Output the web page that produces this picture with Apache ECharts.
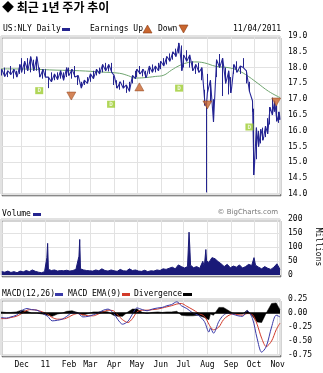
<!DOCTYPE html>
<html><head><meta charset="utf-8">
<script src="https://cdn.jsdelivr.net/npm/echarts@6/dist/echarts.min.js"></script>
<style>html,body{margin:0;padding:0;background:#fff}#c{width:323px;height:373px}</style>
</head><body><div id="c"></div>
<script>
// ---- Data ----
// tick labels indexed by month (0 = January -> year label)
const monthLabels = ['11','Feb','Mar','Apr','May','Jun','Jul','Aug','Sep','Oct','Nov','Dec'];

const priceDates = ['2010-11-05','2010-11-09','2010-11-13','2010-11-17','2010-11-21','2010-11-25','2010-11-29',
'2010-12-01','2010-12-05','2010-12-09','2010-12-13','2010-12-17','2010-12-21','2010-12-25','2010-12-29',
'2011-01-01','2011-01-05','2011-01-09','2011-01-13','2011-01-17','2011-01-21','2011-01-25','2011-01-29',
'2011-02-01','2011-02-05','2011-02-09','2011-02-13','2011-02-17','2011-02-21','2011-02-25',
'2011-03-01','2011-03-05','2011-03-09','2011-03-13','2011-03-17','2011-03-21','2011-03-25','2011-03-29',
'2011-04-01','2011-04-05','2011-04-09','2011-04-13','2011-04-17','2011-04-21','2011-04-25','2011-04-29',
'2011-05-01','2011-05-05','2011-05-09','2011-05-13','2011-05-17','2011-05-21','2011-05-25','2011-05-29',
'2011-06-01','2011-06-05','2011-06-09','2011-06-13','2011-06-17','2011-06-21','2011-06-25','2011-06-29',
'2011-07-01','2011-07-05','2011-07-09','2011-07-13','2011-07-17','2011-07-21','2011-07-25','2011-07-29','2011-07-31',
'2011-08-01','2011-08-05','2011-08-09','2011-08-13','2011-08-17','2011-08-21','2011-08-25','2011-08-29',
'2011-09-01','2011-09-05','2011-09-09','2011-09-13','2011-09-17','2011-09-21','2011-09-25','2011-09-29',
'2011-10-01','2011-10-04','2011-10-07','2011-10-10','2011-10-13','2011-10-16','2011-10-19','2011-10-22','2011-10-25','2011-10-28','2011-10-31','2011-11-03','2011-11-04'];
const priceHigh = [17.95,18.0,17.9,18.05,17.95,17.9,18.1,
18.3,18.2,18.3,18.35,18.25,18.35,18.0,17.95,
17.95,17.7,17.85,17.8,17.85,17.9,17.85,18.0,
18.0,17.95,18.05,17.75,17.55,17.6,17.7,
17.8,17.9,17.95,18.0,18.1,18.15,18.1,18.15,
17.75,17.6,17.55,17.6,17.45,17.55,17.75,17.9,
17.95,18.05,17.95,17.9,18.05,18.1,18.05,18.15,
18.2,18.3,18.35,18.45,18.5,18.6,18.78,18.7,
18.4,18.55,18.4,18.2,18.1,18.15,18.0,17.3,16.9,
17.8,17.6,17.0,18.25,18.43,18.3,18.0,17.9,
17.7,18.1,18.2,18.05,18.3,17.9,17.55,16.95,
16.7,16.1,16.0,16.05,16.1,16.15,16.4,16.75,17.05,16.95,16.8,16.6,16.5];
const priceLow = [17.75,17.72,17.7,17.78,17.65,17.7,17.8,
17.85,17.8,17.9,17.85,17.9,17.9,17.7,17.65,
17.7,17.35,17.55,17.6,17.62,17.65,17.6,17.7,
17.75,17.65,17.7,17.45,17.35,17.45,17.5,
17.55,17.65,17.75,17.8,17.85,17.9,17.88,17.85,
17.45,17.35,17.3,17.35,17.2,17.25,17.5,17.65,
17.7,17.8,17.72,17.68,17.8,17.85,17.85,17.9,
17.95,18.05,18.1,18.2,18.25,18.35,18.45,17.9,
18.0,18.2,18.0,17.9,17.8,17.85,17.6,16.8,14.05,
17.2,16.9,16.28,17.7,18.0,17.1,17.5,17.15,
17.2,17.8,17.85,17.8,18.0,17.5,17.25,16.6,
14.6,15.1,15.5,15.6,15.7,15.8,15.9,16.2,16.5,16.6,16.3,16.25,16.35];

const maDates = ['2010-11-04','2010-12-15','2011-01-15','2011-02-15','2011-03-15','2011-04-08','2011-04-20','2011-04-28','2011-05-10','2011-05-25','2011-06-05','2011-06-15','2011-06-25','2011-07-05','2011-07-15','2011-07-28','2011-08-12','2011-08-28','2011-09-08','2011-09-20','2011-10-05','2011-10-20','2011-11-04'];
const maValues = [17.96,17.95,17.92,17.9,17.86,17.82,17.74,17.67,17.68,17.72,17.76,17.92,18.06,18.15,18.18,18.15,18.04,18.0,17.93,17.78,17.52,17.25,17.05];

const divDates = ['2010-12-24','2011-03-28','2011-06-25','2011-09-25'];
const divY = [17.27,16.84,17.35,16.12];
const earnUpDates = ['2011-05-04'];
const earnUpY = [17.39];
const earnDownDates = ['2011-02-04','2011-08-01','2011-10-30'];
const earnDownY = [17.1,16.82,16.91];

const volDates = ['2010-11-05','2010-11-09','2010-11-13','2010-11-17','2010-11-21','2010-11-25','2010-11-29','2010-12-03','2010-12-07','2010-12-11','2010-12-15','2010-12-19','2010-12-23','2010-12-27','2010-12-31',
'2011-01-03','2011-01-04','2011-01-05','2011-01-09','2011-01-13','2011-01-17','2011-01-21','2011-01-25','2011-01-29','2011-02-02','2011-02-06','2011-02-10','2011-02-14','2011-02-15','2011-02-16','2011-02-20','2011-02-24','2011-02-28',
'2011-03-04','2011-03-08','2011-03-12','2011-03-16','2011-03-20','2011-03-24','2011-03-28','2011-04-01','2011-04-05','2011-04-09','2011-04-13','2011-04-17','2011-04-21','2011-04-25','2011-04-29',
'2011-05-03','2011-05-07','2011-05-11','2011-05-15','2011-05-19','2011-05-23','2011-05-27','2011-05-31','2011-06-04','2011-06-08','2011-06-12','2011-06-16','2011-06-20','2011-06-24','2011-06-28',
'2011-07-02','2011-07-06','2011-07-08','2011-07-09','2011-07-10','2011-07-14','2011-07-18','2011-07-22','2011-07-26','2011-07-28','2011-07-30','2011-07-31',
'2011-08-03','2011-08-07','2011-08-11','2011-08-15','2011-08-19','2011-08-23','2011-08-27','2011-08-31','2011-09-04','2011-09-08','2011-09-12','2011-09-16','2011-09-20','2011-09-24','2011-09-28',
'2011-10-01','2011-10-03','2011-10-07','2011-10-11','2011-10-15','2011-10-19','2011-10-23','2011-10-27','2011-10-31','2011-11-04'];
const volValues = [12,10,14,9,12,8,14,11,16,12,18,13,10,8,12,
62,113,20,16,18,14,16,15,17,14,16,20,67,127,22,18,16,15,
14,18,15,22,16,14,18,15,13,20,15,14,22,16,18,
14,13,17,12,15,14,18,16,22,20,24,28,22,36,30,
25,30,153,100,35,26,30,24,49,30,91,50,
45,62,58,48,40,30,38,26,32,28,36,25,30,38,34,
62,35,28,22,30,24,20,28,40,20];

const macdDates = ['2010-11-04','2010-11-11','2010-11-17','2010-11-24','2010-12-01','2010-12-08','2010-12-14','2010-12-21','2010-12-28','2011-01-04','2011-01-10','2011-01-17','2011-01-23','2011-01-29','2011-02-05','2011-02-12','2011-02-19','2011-02-26','2011-03-05','2011-03-11','2011-03-18','2011-03-24','2011-03-31','2011-04-06','2011-04-12','2011-04-19','2011-04-25','2011-05-01','2011-05-08','2011-05-14','2011-05-21','2011-05-28','2011-06-03','2011-06-09','2011-06-15','2011-06-22','2011-06-28','2011-07-05','2011-07-13','2011-07-20','2011-07-28','2011-08-03','2011-08-05','2011-08-09','2011-08-16','2011-08-22','2011-08-28','2011-09-03','2011-09-10','2011-09-16','2011-09-22','2011-09-29','2011-10-05','2011-10-11','2011-10-17','2011-10-24','2011-10-30','2011-11-04'];
const macdLine = [-0.08,-0.09,-0.07,-0.04,0.04,0.08,0.06,0.05,0.0,-0.06,-0.14,-0.13,-0.11,-0.06,0.0,0.0,-0.07,-0.06,-0.03,0.0,0.05,0.07,0.0,-0.12,-0.2,-0.15,-0.02,0.09,0.06,0.04,0.07,0.09,0.1,0.13,0.15,0.2,0.13,0.08,0.0,-0.04,-0.15,-0.34,-0.27,-0.36,-0.15,-0.04,0.0,-0.02,-0.05,-0.06,0.04,-0.1,-0.45,-0.7,-0.6,-0.25,-0.04,-0.07];
const macdSignal = [-0.1,-0.1,-0.08,-0.06,-0.01,0.05,0.06,0.05,0.02,-0.02,-0.08,-0.11,-0.11,-0.09,-0.04,-0.01,-0.03,-0.05,-0.05,-0.02,0.02,0.05,0.04,-0.04,-0.12,-0.17,-0.1,0.02,0.05,0.05,0.06,0.07,0.09,0.11,0.13,0.16,0.17,0.12,0.06,0.0,-0.06,-0.2,-0.25,-0.3,-0.25,-0.12,-0.05,-0.02,-0.03,-0.04,-0.01,-0.03,-0.2,-0.45,-0.6,-0.5,-0.3,-0.18];
const macdDiv = [0.02,0.01,0.01,0.02,0.05,0.03,0.0,0.0,-0.02,-0.04,-0.06,-0.02,0.0,0.03,0.04,0.01,-0.04,-0.01,0.02,0.02,0.03,0.02,-0.04,-0.06,-0.06,0.02,0.07,0.07,0.01,-0.01,0.01,0.02,0.01,0.02,0.02,0.03,-0.04,-0.05,-0.05,-0.04,-0.08,-0.12,-0.02,-0.04,0.1,0.1,0.05,0.0,-0.02,-0.02,0.05,-0.06,-0.16,-0.17,0.0,0.17,0.18,0.06];

// ---- Build ----
const zip = (a, b) => a.map((d, i) => [d, b[i]]);
// jagged close-path: alternate between high and low of successive bars
const priceZig = priceDates.map((d, i) => [d, i % 2 === 0 ? priceHigh[i] : priceLow[i]]);
// vertical high-low bars
const priceBars = priceDates.map((d, i) => [d, priceLow[i], priceHigh[i], priceLow[i], priceHigh[i]]);

const MONO = '"DejaVu Sans Mono", monospace';
const gridStyle = {show:true, left:1, right:43, backgroundColor:'#fff', borderColor:'#c4c4c4', borderWidth:1,
  shadowColor:'rgba(0,0,0,0.35)', shadowOffsetX:1, shadowOffsetY:2, shadowBlur:0};
const DAY = 86400000;
const xAx = (i) => ({
  type:'time', gridIndex:i, min:'2010-11-04', max:'2011-11-04', splitNumber:12,
  minInterval:28*DAY, maxInterval:31*DAY,
  axisLine:{show:false}, axisTick:{show:false},
  axisLabel:{show:i===2, fontFamily:MONO, fontSize:8, color:'#000', margin:6,
    formatter:(v)=>monthLabels[new Date(v).getMonth()]},
  splitLine:{show:true, lineStyle:{color:'#e2e2e2', width:1}}
});
const yLab = (fmt) => ({fontFamily:MONO, fontSize:8, color:'#000', margin:8, formatter:fmt});

const option = {
  animation:false,
  backgroundColor:'#fff',
  grid:[Object.assign({top:36, height:158}, gridStyle), Object.assign({top:219, height:56}, gridStyle), Object.assign({top:299, height:56}, gridStyle)],
  xAxis:[xAx(0), xAx(1), xAx(2)],
  yAxis:[
    {type:'value', gridIndex:0, position:'right', min:14, max:19, interval:0.5, axisLine:{show:false}, axisTick:{show:false},
      axisLabel:yLab(v=>v.toFixed(1)), splitLine:{lineStyle:{color:'#e2e2e2'}}},
    {type:'value', gridIndex:1, position:'right', min:0, max:200, interval:50, axisLine:{show:false}, axisTick:{show:false},
      axisLabel:yLab(v=>String(v)), splitLine:{lineStyle:{color:'#e2e2e2'}}},
    {type:'value', gridIndex:2, position:'right', min:-0.75, max:0.25, interval:0.25, axisLine:{show:false}, axisTick:{show:false},
      axisLabel:yLab(v=>v.toFixed(2)), splitLine:{lineStyle:{color:'#e2e2e2'}}}
  ],
  series:[
    {type:'line', xAxisIndex:0, yAxisIndex:0, data:zip(maDates, maValues), showSymbol:false, smooth:0.4,
      lineStyle:{color:'#6fa56f', width:1}, z:2},
    {type:'candlestick', xAxisIndex:0, yAxisIndex:0, data:priceBars.map(r=>r.slice(1)).map((r,i)=>[priceDates[i]].concat(r)),
      barWidth:1.3, itemStyle:{color:'#24248f', color0:'#24248f', borderColor:'#24248f', borderColor0:'#24248f', borderWidth:1}, z:3},
    {type:'line', xAxisIndex:0, yAxisIndex:0, data:priceZig, showSymbol:false,
      lineStyle:{color:'#2a2a9a', width:1.1}, z:3},
    {type:'scatter', xAxisIndex:0, yAxisIndex:0, data:zip(divDates, divY), symbol:'rect', symbolSize:[8,7],
      itemStyle:{color:'#9ccc2e'}, label:{show:true, position:'inside', formatter:'D', color:'#fff', fontSize:6, fontWeight:'bold', fontFamily:MONO}, z:4},
    {type:'scatter', xAxisIndex:0, yAxisIndex:0, data:zip(earnUpDates, earnUpY), symbol:'triangle', symbolSize:[9,8],
      itemStyle:{color:'#c9662f', borderColor:'#8a3a12', borderWidth:0.6}, z:4},
    {type:'scatter', xAxisIndex:0, yAxisIndex:0, data:zip(earnDownDates, earnDownY), symbol:'triangle', symbolRotate:180, symbolSize:[9,8],
      itemStyle:{color:'#c9662f', borderColor:'#8a3a12', borderWidth:0.6}, z:4},
    {type:'line', xAxisIndex:1, yAxisIndex:1, data:zip(volDates, volValues), showSymbol:false,
      lineStyle:{color:'#1a1a78', width:1}, areaStyle:{color:'#1a1a78', opacity:1}},
    {type:'line', xAxisIndex:2, yAxisIndex:2, data:zip(macdDates, macdDiv), showSymbol:false,
      lineStyle:{color:'#000', width:0.5}, areaStyle:{color:'#000', opacity:1}, z:2,
      markLine:{silent:true, symbol:'none', label:{show:false}, data:[{yAxis:0}], lineStyle:{color:'#000', width:1.5, type:'solid'}}},
    {type:'line', xAxisIndex:2, yAxisIndex:2, data:zip(macdDates, macdSignal), showSymbol:false, smooth:0.3,
      lineStyle:{color:'#d23a2a', width:1}, z:3},
    {type:'line', xAxisIndex:2, yAxisIndex:2, data:zip(macdDates, macdLine), showSymbol:false, smooth:0.3,
      lineStyle:{color:'#3a3aa8', width:1}, z:4}
  ],
  graphic:[
    {type:'text', x:2, y:1, style:{text:'◆ 최근 1년 주가 추이', font:'bold 12px "Noto Sans CJK KR"', fill:'#000'}},
    {type:'text', x:3, y:25, style:{text:'US:NLY Daily', font:'8px ' + MONO, fill:'#000'}},
    {type:'rect', shape:{x:62, y:28, width:8, height:3}, style:{fill:'#24248f'}},
    {type:'text', x:90, y:25, style:{text:'Earnings Up', font:'8px ' + MONO, fill:'#000'}},
    {type:'polygon', shape:{points:[[143,33],[152,33],[147.5,25]]}, style:{fill:'#c9662f', stroke:'#8a3a12', lineWidth:0.6}},
    {type:'text', x:158, y:25, style:{text:'Down', font:'8px ' + MONO, fill:'#000'}},
    {type:'polygon', shape:{points:[[179,25],[188,25],[183.5,33]]}, style:{fill:'#c9662f', stroke:'#8a3a12', lineWidth:0.6}},
    {type:'text', x:233, y:25, style:{text:'11/04/2011', font:'8px ' + MONO, fill:'#000'}},
    {type:'text', x:2, y:210, style:{text:'Volume', font:'8px ' + MONO, fill:'#000'}},
    {type:'rect', shape:{x:33, y:213, width:8, height:3}, style:{fill:'#24248f'}},
    {type:'text', x:278, y:209, style:{text:'© BigCharts.com', font:'7px "DejaVu Sans"', fill:'#777', align:'right'}},
    {type:'text', x:318, y:247, rotation:-Math.PI/2, style:{text:'Millions', font:'8px ' + MONO, fill:'#000', align:'center', verticalAlign:'middle'}},
    {type:'text', x:2, y:290, style:{text:'MACD(12,26)', font:'8px ' + MONO, fill:'#000'}},
    {type:'rect', shape:{x:55, y:293, width:8, height:3}, style:{fill:'#3a3aa8'}},
    {type:'text', x:68, y:290, style:{text:'MACD EMA(9)', font:'8px ' + MONO, fill:'#000'}},
    {type:'rect', shape:{x:122, y:293, width:8, height:3}, style:{fill:'#d23a2a'}},
    {type:'text', x:134, y:290, style:{text:'Divergence', font:'8px ' + MONO, fill:'#000'}},
    {type:'rect', shape:{x:183, y:293, width:9, height:3}, style:{fill:'#000'}}
  ]
};
const chart = echarts.init(document.getElementById('c'), null, {renderer:'canvas'});
chart.setOption(option);
</script>
</body></html>
